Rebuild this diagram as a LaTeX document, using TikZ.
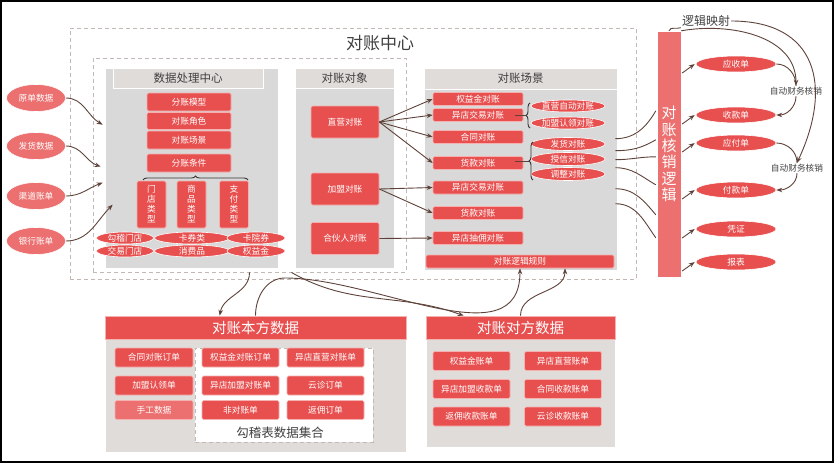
\documentclass[tikz,border=0pt]{standalone}
\usepackage{fontspec}
\setmainfont{Noto Sans CJK SC}
\usetikzlibrary{arrows.meta, positioning, calc, decorations.pathreplacing, shapes.geometric}
\definecolor{bred}{HTML}{E85050}
\definecolor{lred}{HTML}{EC7070}
\definecolor{pgray}{HTML}{D9D9D9}
\definecolor{hgray}{HTML}{E0DCDA}
\definecolor{dashc}{HTML}{C4B8B4}
\definecolor{arrc}{HTML}{5E4239}
\definecolor{tgray}{HTML}{404040}
\newcommand{\smf}{\fontsize{8.7}{10}\selectfont}
\tikzset{
  box/.style={rectangle, fill=bred, draw=white!55!bred, line width=0.6pt, rounded corners=1.5pt, text=white, font=\smf, inner sep=0pt},
  ebox/.style={ellipse, fill=bred, draw=white, line width=0.6pt, text=white, font=\smf, inner sep=0pt},
  srcell/.style={ebox, fill=lred, minimum width=59, minimum height=27},
  outell/.style={ebox, minimum width=80, minimum height=16},
  panel/.style={rectangle, fill=pgray, draw=white, line width=0.6pt, inner sep=0pt},
  hdr/.style={rectangle, fill=hgray, draw=white, line width=0.6pt, inner sep=0pt, text=tgray, font=\fontsize{11.5}{13}\selectfont},
  dbox/.style={rectangle, draw=dashc, line width=0.9pt, dash pattern=on 4pt off 3pt, inner sep=0pt},
  tra/.style={->, >={Stealth[length=6pt, width=4.5pt]}, draw=arrc, line width=0.9pt},
  lnk/.style={draw=arrc, line width=0.9pt},
  brc/.style={draw=black!80, line width=0.9pt, decorate, decoration={brace, amplitude=4pt}},
  lbl/.style={text=tgray, inner sep=1pt}
}

\begin{document}
\begin{tikzpicture}[x=1pt, y=-1pt]
  \useasboundingbox (0,0) rectangle (834,463);
  \draw[line width=2pt] (1,1) rectangle (833,462);

  % dashed frames
  \node[dbox, minimum width=566, minimum height=251] (center) at (353,153.5) {};
  \node[lbl, font=\fontsize{17}{19}\selectfont] (ctitle) at (380,43) {对账中心};
  \node[dbox, minimum width=313, minimum height=214] (proc) at (249.5,165) {};

  % panels
  \node[panel, minimum width=173, minimum height=200] (pdata) at (191.5,168) {};
  \node[hdr, minimum width=150, minimum height=20] (pdatah) at (188,78) {数据处理中心};
  \node[panel, minimum width=99, minimum height=200] (pobj) at (344.5,168) {};
  \node[hdr, minimum width=99, minimum height=20] (pobjh) at (344.5,78) {对账对象};
  \node[panel, minimum width=193, minimum height=202] (scene) at (520.5,169) {};
  \node[hdr, minimum width=193, minimum height=21] (sceneh) at (520.5,78.5) {对账场景};

  % data processing centre
  \node[box, minimum width=84, minimum height=18] (fzm) at (189,102) {分账模型};
  \node[box, minimum width=84, minimum height=17] (dzjs) at (189,121) {对账角色};
  \node[box, minimum width=84, minimum height=18] (dzcj) at (189,140) {对账场景};
  \node[box, minimum width=84, minimum height=18] (fztj) at (189,163) {分账条件};
  \draw[brc] (143,180) -- (248,180);
  \node[box, minimum width=29, minimum height=47, align=center] (tmd) at (151.5,204.5) {门\\店\\类\\型};
  \node[box, minimum width=29, minimum height=47, align=center] (tsp) at (191.5,204.5) {商\\品\\类\\型};
  \node[box, minimum width=29, minimum height=47, align=center] (tzf) at (234,204.5) {支\\付\\类\\型};
  \node[ebox, minimum width=57, minimum height=12] (gjmd) at (125,238) {勾稽门店};
  \node[ebox, minimum width=75, minimum height=12] (kql) at (192,238) {卡券类};
  \node[ebox, minimum width=58, minimum height=12] (kyq) at (256,238) {卡院券};
  \node[ebox, minimum width=57, minimum height=12] (jymd) at (125,251) {交易门店};
  \node[ebox, minimum width=75, minimum height=12] (xfp) at (192,251) {消费品};
  \node[ebox, minimum width=58, minimum height=12] (qyj) at (256,251) {权益金};

  % objects
  \node[box, minimum width=68, minimum height=32] (zy) at (345,122) {直营对账};
  \node[box, minimum width=68, minimum height=32] (jm) at (345,189) {加盟对账};
  \node[box, minimum width=68, minimum height=32] (hhr) at (345,238.5) {合伙人对账};

  % scenes
  \node[box, minimum width=90, minimum height=13] (qy) at (478,99) {权益金对账};
  \node[box, minimum width=90, minimum height=13] (yj1) at (478,115) {异店交易对账};
  \node[box, minimum width=90, minimum height=13] (ht) at (478,137) {合同对账};
  \node[box, minimum width=90, minimum height=13] (hk1) at (478,163) {货款对账};
  \node[box, minimum width=90, minimum height=13] (yj2) at (478,187.5) {异店交易对账};
  \node[box, minimum width=90, minimum height=13] (hk2) at (478,213) {货款对账};
  \node[box, minimum width=90, minimum height=13] (yc) at (478,238) {异店抽佣对账};
  \node[box, minimum width=188, minimum height=13] (rule) at (520,261.5) {对账逻辑规则};
  \node[ebox, minimum width=74, minimum height=12] (zd) at (568,106) {直营自动对账};
  \node[ebox, minimum width=74, minimum height=12] (jr) at (568,123) {加盟认领对账};
  \node[ebox, minimum width=74, minimum height=13] (fh) at (568,144) {发货对账};
  \node[ebox, minimum width=74, minimum height=13] (sx) at (568,159) {授信对账};
  \node[ebox, minimum width=74, minimum height=13] (tz) at (568,174) {调整对账};
  \coordinate (b1) at (526,115);
  \coordinate (b2) at (529,161);
  \draw[brc] (530,128) -- (530,103);
  \draw[brc] (533,180) -- (533,142);
  \draw[lnk] ($(yj1.east)+(-8,0)$) -- (b1);
  \draw[lnk] ($(hk1.east)+(-8,-2)$) -- (b2);

  \foreach \t in {qy, yj1, ht, hk1}
    \draw[tra] (zy.east) -- (\t.west);
  \foreach \t in {yj2, hk2}
    \draw[tra] (jm.east) -- (\t.west);
  \draw[tra] (hhr.east) -- (yc.west);

  % sources
  \node[srcell] (ydsj) at (36,98) {原单数据};
  \node[srcell] (fhsj) at (36,146) {发货数据};
  \node[srcell] (qdzd) at (36,196) {渠道账单};
  \node[srcell] (yhzd) at (36,241) {银行账单};
  \draw[tra] (ydsj.east) to[out=0, in=150] ($(pdata.north west)+(-2,57)$);
  \draw[tra] (fhsj.east) to[out=0, in=160] ($(pdata.north west)+(-4,99)$);
  \draw[tra] (qdzd.east) to[out=0, in=-160] ($(pdata.north west)+(-2,115)$);
  \draw[tra] (yhzd.east) to[out=0, in=-135] ($(pdata.north west)+(8,137)$);

  % write-off bar
  \node[rectangle, fill=lred, draw=white, inner sep=0pt, minimum width=24, minimum height=246, text=white, align=center, font=\fontsize{15}{16.4}\selectfont] (bar) at (669,154) {对\\账\\核\\销\\逻\\辑};
  \foreach \a/\b/\i in {71/80/-120, 83/109/-150, 92/126/180, 100/154/150, 121/184/130, 136/207/125}
    \draw[lnk] ($(scene.north east)+(-2,\a)$) to[out=0, in=\i] ($(bar.north west)+(-1,\b)$);

  \node[outell] (ysd) at (736,64) {应收单};
  \node[outell] (skd) at (736,115) {收款单};
  \node[outell] (yfd) at (736,143) {应付单};
  \node[outell] (fkd) at (736,190) {付款单};
  \node[outell] (pz) at (736,229) {凭证};
  \node[outell] (bb) at (736,262) {报表};
  \foreach \t in {ysd, skd, yfd, fkd, pz, bb}
    \draw[tra] ($(bar.east |- \t.west)+(1,9)$) -- ($(\t.west)+(-1,0)$);

  \node[lbl, font=\fontsize{12}{14}\selectfont] (ljys) at (706,21) {逻辑映射};
  \node[lbl, font=\smf] (auto1) at (796,91) {自动财务核销};
  \node[lbl, font=\smf] (auto2) at (797,168) {自动财务核销};
  \draw[lnk] (bar.north) to[out=70, in=200] (ljys.south west);
  \draw[tra] (bar.north east) to[out=10, in=90] (auto1.north);
  \draw[tra] (ljys.east) to[out=0, in=65, looseness=1.4] (auto2.north);
  \draw[lnk] (ysd.east) to[out=0, in=90] (auto1.north);
  \draw[tra] (auto1.south) to[out=-90, in=0] (skd.east);
  \draw[lnk] (yfd.east) to[out=0, in=90] (auto2.north);
  \draw[tra] (auto2.south) to[out=-90, in=0] (fkd.east);

  % own data
  \node[panel, fill=hgray, minimum width=301, minimum height=136] (own) at (255.5,384) {};
  \node[box, rounded corners=0pt, minimum width=301, minimum height=23, font=\fontsize{14.5}{16}\selectfont] (ownh) at (255.5,327.5) {对账本方数据};
  \node[dbox, fill=white, minimum width=178, minimum height=94] (gj) at (284,395) {};
  \node[lbl, font=\fontsize{12.5}{14}\selectfont] (gjt) at (280,433) {勾稽表数据集合};
  \node[box, minimum width=78, minimum height=19] (htdd) at (154,357.5) {合同对账订单};
  \node[box, minimum width=78, minimum height=19] (jmrl) at (154,385.5) {加盟认领单};
  \node[box, fill=lred, minimum width=78, minimum height=19] (sgsj) at (154,410) {手工数据};
  \node[box, minimum width=77, minimum height=19] (qydd) at (240.5,357.5) {权益金对账订单};
  \node[box, minimum width=77, minimum height=19] (ydzy) at (325.5,357.5) {异店直营对账单};
  \node[box, minimum width=77, minimum height=19] (ydjm) at (240.5,385.5) {异店加盟对账单};
  \node[box, minimum width=77, minimum height=19] (yzdd) at (325.5,385.5) {云诊订单};
  \node[box, minimum width=77, minimum height=19] (fdzd) at (240.5,410) {非对账单};
  \node[box, minimum width=77, minimum height=19] (fydd) at (325.5,410) {返佣订单};

  % other side data
  \node[panel, fill=hgray, minimum width=189, minimum height=131] (opp) at (520.5,381.5) {};
  \node[box, rounded corners=0pt, minimum width=189, minimum height=23, font=\fontsize{14.5}{16}\selectfont] (opph) at (520.5,327.5) {对账对方数据};
  \node[box, minimum width=77, minimum height=19] (qyzd) at (471.5,361) {权益金账单};
  \node[box, minimum width=77, minimum height=19] (ydzyz) at (563,361) {异店直营账单};
  \node[box, minimum width=77, minimum height=19] (ydjms) at (471.5,389) {异店加盟收款单};
  \node[box, minimum width=77, minimum height=19] (htsk) at (563,389) {合同收款账单};
  \node[box, minimum width=77, minimum height=19] (fysk) at (471.5,416.5) {返佣收款账单};
  \node[box, minimum width=77, minimum height=19] (yzsk) at (563,416.5) {云诊收款账单};

  % flows between centre and data
  \draw[tra] (proc.south) to[out=-90, in=80] ($(ownh.north west)+(115,0)$);
  \draw[tra] (ownh.north) to[out=90, in=180] (285,278) to[out=0, in=-90] (rule.south);
  \draw[tra] ($(proc.south)+(42,0)$) to[out=-30, in=160] ($(opph.north west)+(38,0)$);
  \draw[tra] (opph.north) to[out=90, in=-90] ($(rule.south)+(45,0)$);
\end{tikzpicture}
\end{document}
